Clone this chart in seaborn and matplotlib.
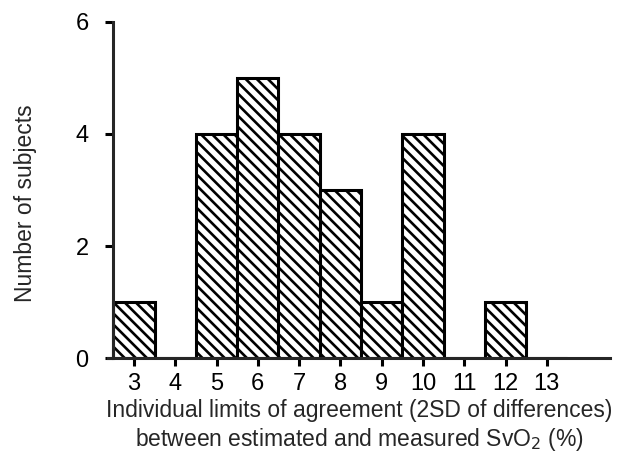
import matplotlib
matplotlib.use("Agg")
import matplotlib.pyplot as plt
import seaborn as sns
import pandas as pd

limits = [3, 4, 5, 6, 7, 8, 9, 10, 11, 12, 13]
subjects = [1, 0, 4, 5, 4, 3, 1, 4, 0, 1, 0]
y_ticks = [0, 2, 4, 6]

sns.set_style("ticks")
plt.rcParams['font.family'] = ['Liberation Sans', 'DejaVu Sans']
plt.rcParams['hatch.linewidth'] = 1.9

df = pd.DataFrame({"limit": limits, "n": subjects})

fig = plt.figure(figsize=(6.28, 4.65), dpi=100)
ax = fig.add_axes([108/628, 1-358/465, (610-108)/628, (358-22)/465])

sns.barplot(data=df, x="limit", y="n", native_scale=True, width=1.0,
            color="white", edgecolor="black", linewidth=2.2, ax=ax,
            hatch="\\\\\\", saturation=1)

ax.set_xlim(2.37, 14.53)
ax.set_ylim(0, 6)
ax.set_xticks(limits)
ax.set_xticklabels([str(v) for v in limits])
ax.set_yticks(y_ticks)
for s in ["top", "right"]:
    ax.spines[s].set_visible(False)
ax.spines["left"].set_position(("data", 2.49))
ax.spines["left"].set_bounds(0, 6)
ax.spines["left"].set_linewidth(2.2)
ax.spines["bottom"].set_linewidth(2.2)
ax.tick_params(axis="both", direction="out", length=5.5, width=2.2, labelsize=17, colors="black")
ax.tick_params(axis="x", pad=5)
ax.tick_params(axis="y", pad=12)

ax.set_xlabel("Individual limits of agreement (2SD of differences)\nbetween estimated and measured SvO$_2$ (%)",
              fontsize=16.5, linespacing=1.2)
ax.xaxis.set_label_coords(0.5, -0.123)
ax.xaxis.label.set_verticalalignment("top")
ax.set_ylabel("Number of subjects", fontsize=16.5)
ax.yaxis.set_label_coords(-0.142, 0.462)

fig.savefig("out.png", dpi=100, facecolor="white")
